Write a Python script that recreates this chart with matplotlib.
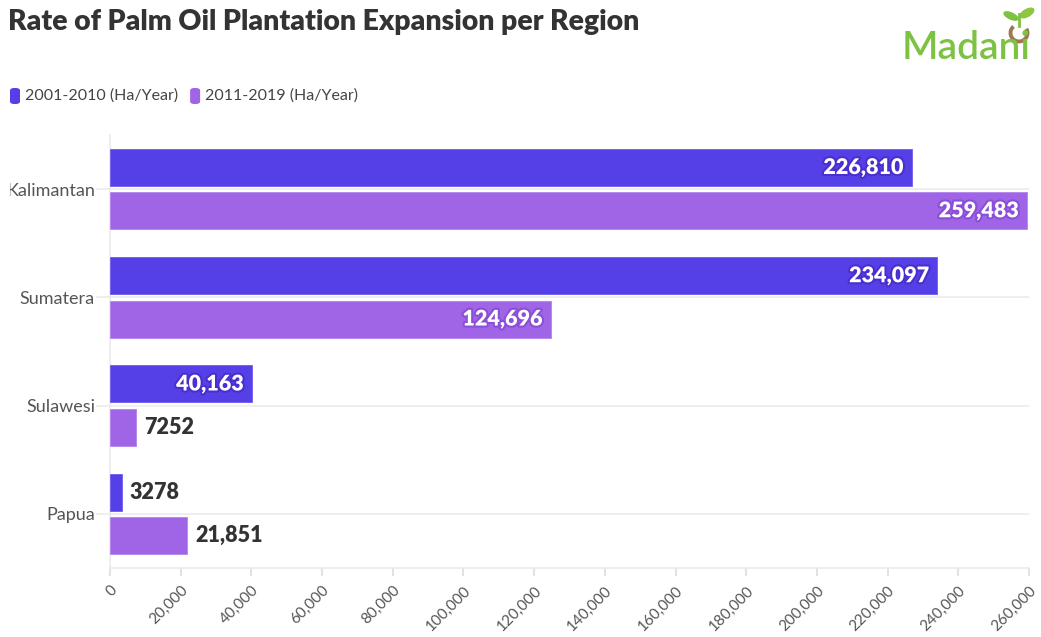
import matplotlib
matplotlib.use("Agg")
import matplotlib.pyplot as plt
import matplotlib.patheffects as pe
from matplotlib.patches import Ellipse, Arc, FancyBboxPatch
from matplotlib.transforms import Bbox
from matplotlib.ticker import FuncFormatter, MultipleLocator

# Data
regions = ["Kalimantan", "Sumatera", "Sulawesi", "Papua"]
rate_2001_2010 = [226810, 234097, 40163, 3278]
rate_2011_2019 = [259483, 124696, 7252, 21851]
series_names = ["2001-2010 (Ha/Year)", "2011-2019 (Ha/Year)"]
label_texts_2001 = ["226,810", "234,097", "40,163", "3278"]
label_texts_2011 = ["259,483", "124,696", "7252", "21,851"]

BLUE = "#553fe6"
PURPLE = "#a064e6"
TEXT_DARK = "#333333"
GRID = "#ebebeb"

W, H, DPI = 1041, 637, 100
fig = plt.figure(figsize=(W / DPI, H / DPI), dpi=DPI)
fig.patch.set_facecolor("white")

FONT = "Lato"

# Axes placement (pixels -> figure fraction)
ax_l, ax_r, ax_t, ax_b = 110, 1029, 135, 568
ax = fig.add_axes([ax_l / W, (H - ax_b) / H, (ax_r - ax_l) / W, (ax_b - ax_t) / H])

y = list(range(len(regions)))
bar_h = 0.342
off = 0.2
b1 = ax.barh([v - off for v in y], rate_2001_2010, height=bar_h, color=BLUE,
             edgecolor="#6f5cf0", linewidth=0.6, zorder=3)
b2 = ax.barh([v + off for v in y], rate_2011_2019, height=bar_h, color=PURPLE,
             edgecolor="#b384ee", linewidth=0.6, zorder=3)

ax.set_xlim(0, 260000)
ax.set_ylim(len(regions) - 0.5, -0.5)

# Grid lines at category centres
for v in y:
    ax.axhline(v, color=GRID, lw=1.2, zorder=1)

for s in ["top", "right"]:
    ax.spines[s].set_visible(False)
ax.spines["left"].set_color(GRID)
ax.spines["left"].set_linewidth(1.2)
ax.spines["bottom"].set_color(GRID)
ax.spines["bottom"].set_linewidth(1.2)

ax.xaxis.set_major_locator(MultipleLocator(20000))
ax.xaxis.set_major_formatter(FuncFormatter(lambda x, p: f"{int(x):,}"))
ax.tick_params(axis="x", colors="#dddddd", length=6, width=1.2, pad=5,
               labelcolor="#555555", labelsize=11)
for lab in ax.get_xticklabels():
    lab.set_rotation(45)
    lab.set_ha("right")
    lab.set_va("top")
    lab.set_rotation_mode("anchor")
    lab.set_fontfamily(FONT)

# Category labels, clipped at the left margin
ax.set_yticks(y)
ax.set_yticklabels([])
ax.tick_params(axis="y", colors=GRID, length=10, width=1.2)
fig.canvas.draw()
for v, name in zip(y, regions):
    _, ypix = ax.transData.transform((0, v))
    t = fig.text(95 / W, ypix / H, name, ha="right", va="center_baseline",
                 fontsize=13, color="#555555", fontfamily=FONT)
    t.set_clip_on(True)
    t.set_clip_box(Bbox([[10, 0], [W, H]]))

# Value labels
def put_labels(bars, values, texts, glow):
    for bar, val, txt in zip(bars, values, texts):
        yc = bar.get_y() + bar.get_height() / 2
        if val > 30000:
            ax.annotate(txt, (val, yc), xytext=(-6, 0), textcoords="offset points",
                        ha="right", va="center", color="white", fontsize=15.5,
                        fontweight="heavy", fontfamily=FONT, zorder=5,
                        path_effects=[pe.withStroke(linewidth=3, foreground=glow)])
        else:
            ax.annotate(txt, (val, yc), xytext=(6, 0), textcoords="offset points",
                        ha="left", va="center", color=TEXT_DARK, fontsize=15.5,
                        fontweight="heavy", fontfamily=FONT, zorder=5)

put_labels(b1, rate_2001_2010, label_texts_2001, "#4a2fcf")
put_labels(b2, rate_2011_2019, label_texts_2011, "#8a4fd6")

# Title
fig.text(8 / W, 1 - 22 / H, "Rate of Palm Oil Plantation Expansion per Region",
         ha="left", va="center", fontsize=20.4, fontweight="heavy",
         color=TEXT_DARK, fontfamily=FONT)

# Legend
lx = 10
for name, col in zip(series_names, [BLUE, PURPLE]):
    fig.patches.append(FancyBboxPatch((lx / W, 1 - 104 / H), 10 / W, 16 / H,
                                      boxstyle="round,pad=0,rounding_size=0.004",
                                      transform=fig.transFigure, facecolor=col,
                                      edgecolor="none"))
    t = fig.text((lx + 15) / W, 1 - 96 / H, name, ha="left", va="center",
                 fontsize=11.5, color="#444444", fontfamily=FONT)
    fig.canvas.draw()
    bb = t.get_window_extent()
    lx = bb.x1 + 12

# Logo
fig.text(902 / W, 1 - 48 / H, "Madani", ha="left", va="center", fontsize=28,
         color="#7dc242", fontfamily=FONT, fontweight="semibold")
lax = fig.add_axes([990 / W, 1 - 50 / H, 50 / W, 50 / H])
lax.set_xlim(990, 1040)
lax.set_ylim(50, 0)
lax.axis("off")
lax.plot([1019, 1019], [14, 26], color="#7dc242", lw=2)
lax.add_patch(Ellipse((1011, 16), 15, 6, angle=25, color="#7dc242"))
lax.add_patch(Ellipse((1027, 13), 15, 7, angle=-30, color="#8dc63f"))
lax.add_patch(Arc((1019, 33), 17, 17, theta1=-30, theta2=230, color="#a0784e", lw=2.8))

fig.savefig("out.png", dpi=DPI, facecolor="white")
